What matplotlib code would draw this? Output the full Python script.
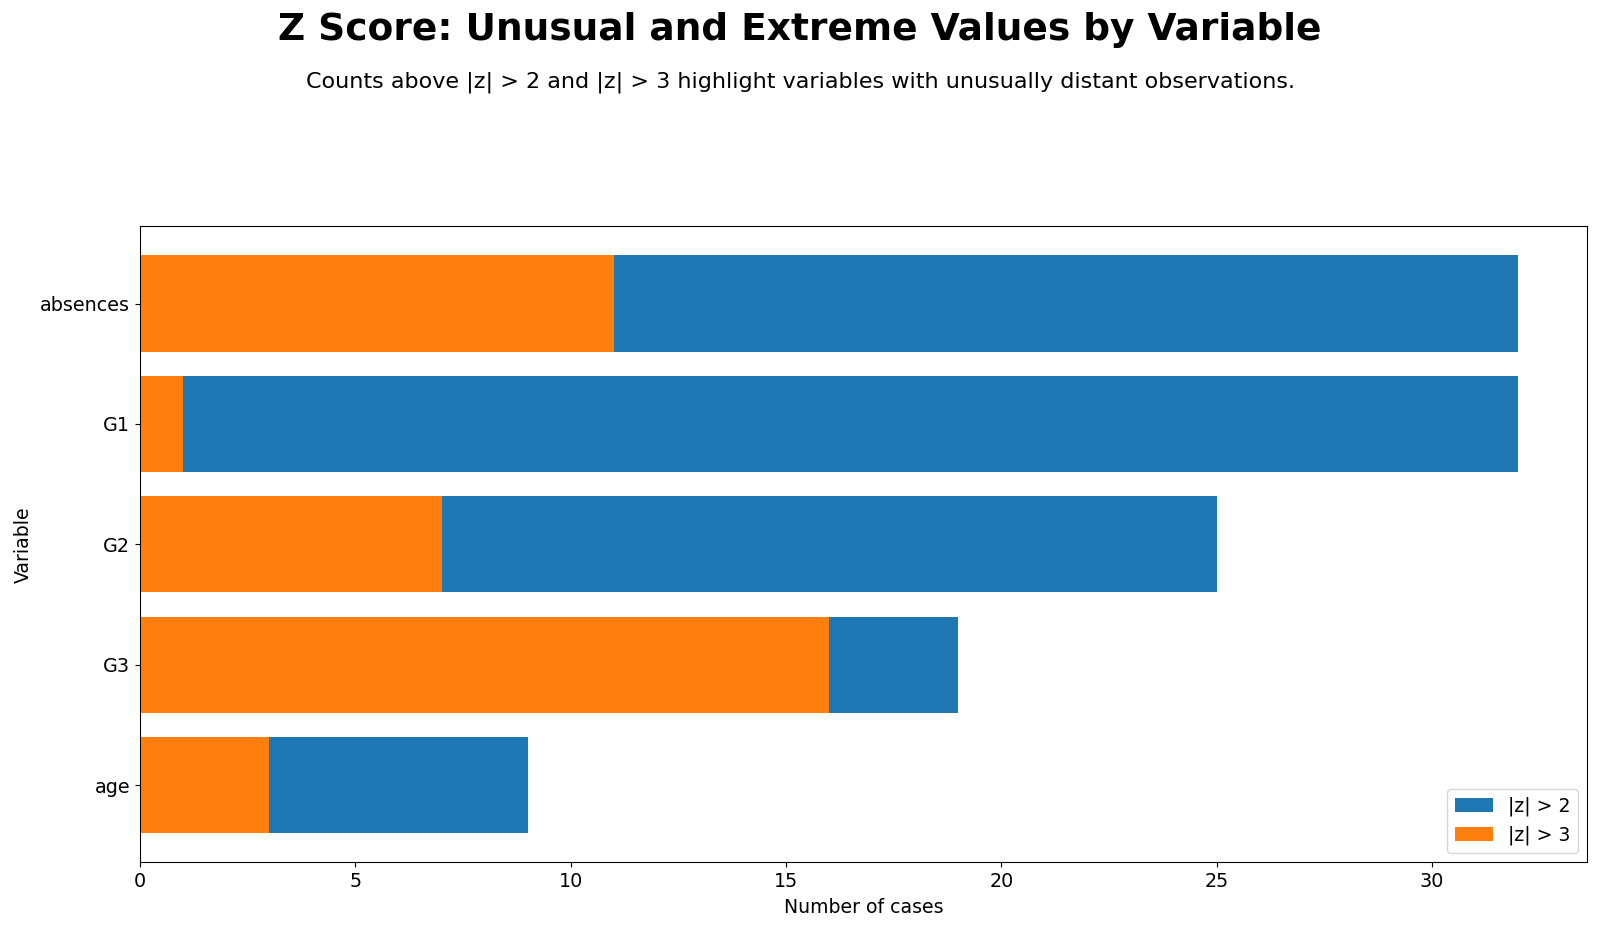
import matplotlib.pyplot as plt

variables = ["absences", "G1", "G2", "G3", "age"]
over2 = [32, 32, 25, 19, 9]
over3 = [11, 1, 7, 16, 3]

fig, ax = plt.subplots(figsize=(16, 9.32), dpi=100)
fig.subplots_adjust(left=0.0875, right=0.992, top=0.757, bottom=0.075)

# |z| > 3 drawn on top of |z| > 2
ax.barh(variables, over2, color="#1f77b4", label="|z| > 2")
ax.barh(variables, over3, color="#ff7f0e", label="|z| > 3")
ax.invert_yaxis()

ax.set_xlabel("Number of cases", fontsize=13.6, labelpad=5)
ax.set_ylabel("Variable", fontsize=13.6, labelpad=5)
ax.tick_params(labelsize=13.8)
ax.legend(loc="lower right", fontsize=13.6)

fig.suptitle("Z Score: Unusual and Extreme Values by Variable",
             fontsize=27, fontweight="bold", y=0.987)
fig.text(0.5, 0.912,
         "Counts above |z| > 2 and |z| > 3 highlight variables with unusually distant observations.",
         ha="center", va="center", fontsize=16)

fig.savefig("out.png")
